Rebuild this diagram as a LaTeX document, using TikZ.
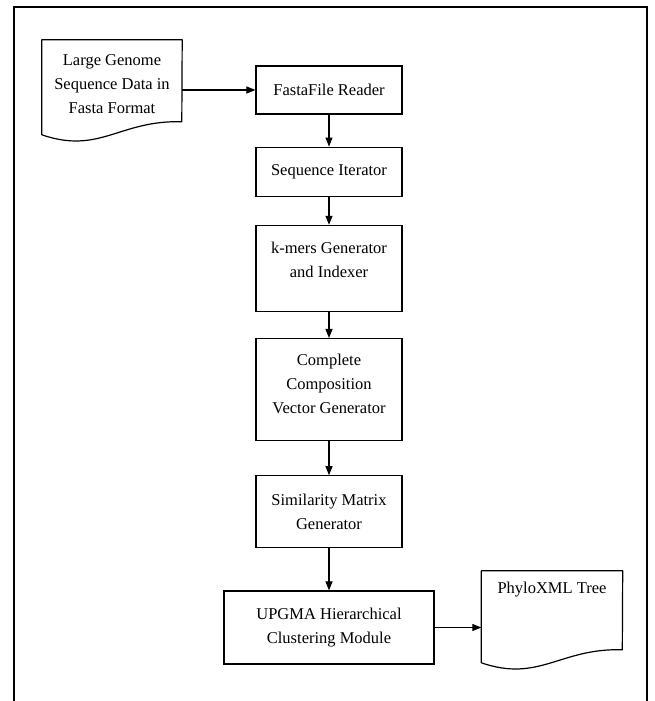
\documentclass[tikz,border=0pt]{standalone}
\usepackage{fontspec}
\setmainfont{Liberation Serif}
\usetikzlibrary{positioning, arrows.meta}

\begin{document}
\begin{tikzpicture}[x=1pt, y=1pt, >={Triangle[length=9pt,width=7pt]},
    block/.style={draw, line width=1.2pt, align=center, minimum width=146pt,
        font=\fontsize{16.5}{24}\selectfont},
    doc/.style={align=center, font=\fontsize{16.5}{24}\selectfont},
    docline/.style={line width=1.2pt, line join=round},
    flow/.style={->, line width=1.1pt}]
        \useasboundingbox (0,0) rectangle (654,701);
        % outer frame (open at the bottom)
        \draw[line width=2pt] (14,0) -- (14,694) -- (647,694) -- (647,0);

        \node[doc, minimum width=140pt, minimum height=88pt] (genome) at (112,617)
            {Large Genome\\Sequence Data in\\Fasta Format};
        \node[block, minimum height=48pt] (fasta) at (329,611) {FastaFile Reader};
        \node[block, minimum height=49pt, below=32pt of fasta] (seqit) {Sequence Iterator};
        \node[block, minimum height=86pt, below=28pt of seqit] (kmers)
            {k-mers Generator\\and Indexer\\[-7pt]\mbox{}};
        \node[block, minimum height=102pt, below=26pt of kmers] (ccv)
            {Complete\\Composition\\Vector Generator\\[-12pt]\mbox{}};
        \node[block, minimum height=72pt, below=34pt of ccv] (simmat)
            {Similarity Matrix\\Generator};
        \node[block, minimum width=210pt, minimum height=73pt, below=42pt of simmat] (upgma)
            {UPGMA Hierarchical\\Clustering Module};
        \node[doc, minimum width=141pt, minimum height=38pt] (phylo) at (552,111) {PhyloXML Tree};

        % document outlines
        \draw[docline] (genome.north west) -- ++(0,-95)
            .. controls +(58,-20) and +(-62,2) .. ++(140,13)
            -- (genome.north east) -- cycle;
        \draw[docline] (phylo.north west) -- ++(0,-92)
            .. controls +(58,-20) and +(-62,2) .. ++(141,13)
            -- (phylo.north east) -- cycle;

        \draw[flow] (genome.east |- fasta.west) -- (fasta.west);
        \draw[flow] (fasta) -- (seqit);
        \draw[flow] (seqit) -- (kmers);
        \draw[flow] (kmers) -- (ccv);
        \draw[flow] (ccv) -- (simmat);
        \draw[flow] (simmat) -- (upgma);
        \draw[flow] (upgma.east) -- (upgma.east -| phylo.west);
\end{tikzpicture}
\end{document}
